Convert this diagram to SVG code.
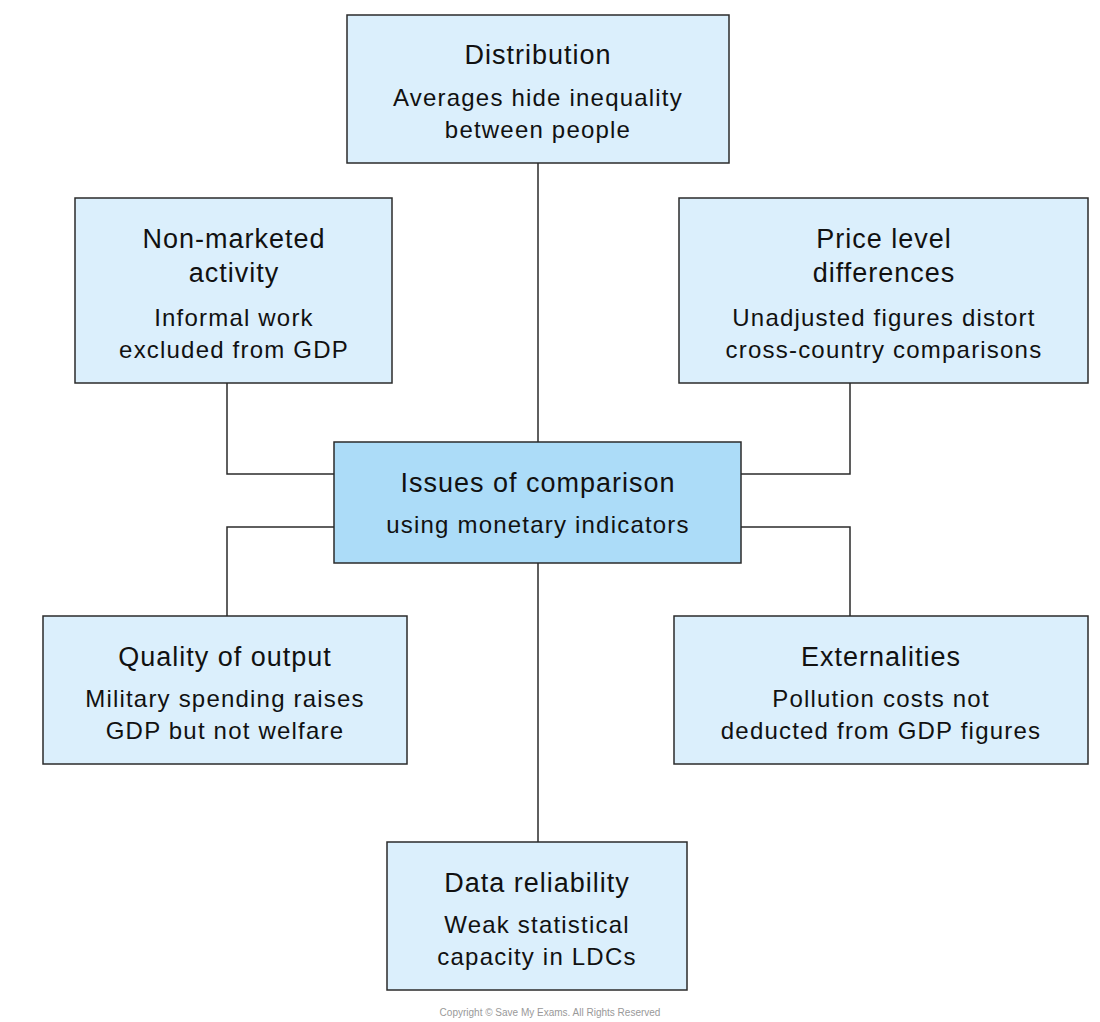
<svg xmlns="http://www.w3.org/2000/svg" width="1100" height="1022" viewBox="0 0 1100 1022">
<style>
.box{fill:#dbeffc;stroke:#2b2b2b;stroke-width:1.5}
.center{fill:#acdcf8;stroke:#2b2b2b;stroke-width:1.5}
.t{font-family:"Liberation Sans","DejaVu Sans",sans-serif;font-size:27px;fill:#111;text-anchor:middle;letter-spacing:1px}
.d{font-family:"Liberation Sans","DejaVu Sans",sans-serif;font-size:24px;fill:#111;text-anchor:middle;letter-spacing:1.2px}
.c{fill:none;stroke:#2b2b2b;stroke-width:1.5}
</style>
<rect width="1100" height="1022" fill="#fff"/>
<g id="connectors">
<path class="c" d="M538 163V442M538 563V842M227 383V474H334M850 383V474H741M227 616V527H334M850 616V527H741"/>
</g>
<g id="distribution"><rect class="box" x="347" y="15" width="382" height="148"/>
<text class="t" x="538" y="64">Distribution</text>
<text class="d" x="538" y="106">Averages hide inequality</text>
<text class="d" x="538" y="138">between people</text></g>
<g id="nonmarketed"><rect class="box" x="75" y="198" width="317" height="185"/>
<text class="t" x="234" y="248">Non-marketed</text>
<text class="t" x="234" y="282">activity</text>
<text class="d" x="234" y="326">Informal work</text>
<text class="d" x="234" y="358">excluded from GDP</text></g>
<g id="price"><rect class="box" x="679" y="198" width="409" height="185"/>
<text class="t" x="884" y="248">Price level</text>
<text class="t" x="884" y="282">differences</text>
<text class="d" x="884" y="326">Unadjusted figures distort</text>
<text class="d" x="884" y="358">cross-country comparisons</text></g>
<g id="center"><rect class="center" x="334" y="442" width="407" height="121"/>
<text class="t" x="538" y="492">Issues of comparison</text>
<text class="d" x="538" y="533">using monetary indicators</text></g>
<g id="quality"><rect class="box" x="43" y="616" width="364" height="148"/>
<text class="t" x="225" y="666">Quality of output</text>
<text class="d" x="225" y="707">Military spending raises</text>
<text class="d" x="225" y="739">GDP but not welfare</text></g>
<g id="externalities"><rect class="box" x="674" y="616" width="414" height="148"/>
<text class="t" x="881" y="666">Externalities</text>
<text class="d" x="881" y="707">Pollution costs not</text>
<text class="d" x="881" y="739">deducted from GDP figures</text></g>
<g id="data"><rect class="box" x="387" y="842" width="300" height="148"/>
<text class="t" x="537" y="892">Data reliability</text>
<text class="d" x="537" y="933">Weak statistical</text>
<text class="d" x="537" y="965">capacity in LDCs</text></g>
<text x="550" y="1016" font-family="Liberation Sans,sans-serif" font-size="10" fill="#999" text-anchor="middle">Copyright © Save My Exams. All Rights Reserved</text>
</svg>
